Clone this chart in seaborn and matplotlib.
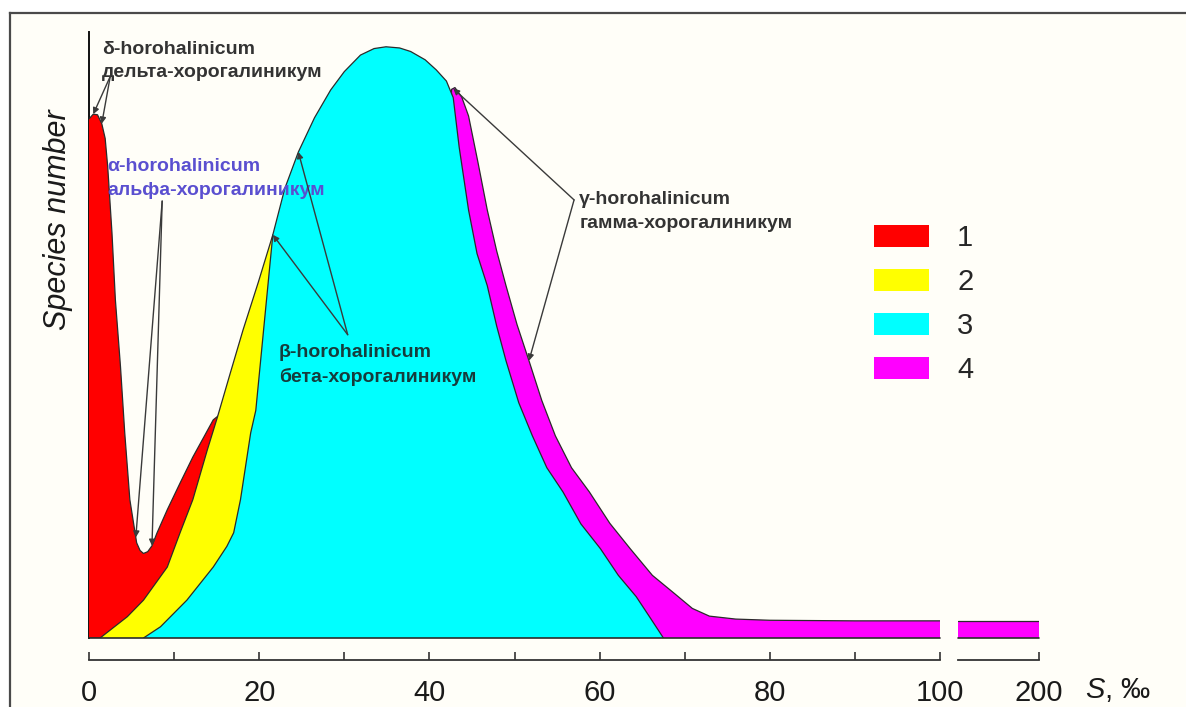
import numpy as np
import pandas as pd
import matplotlib.pyplot as plt
import seaborn as sns
from matplotlib.patches import Patch

# salinity S (per mille) vs species number (relative units)
red_s = [0, 0.5, 1.0, 1.5, 1.9, 2.2, 2.7, 3.1, 3.7, 4.2, 4.8, 5.6, 6.0, 6.4, 6.9, 7.4,
         8.0, 9.2, 10.7, 12.2, 13.5, 14.6, 16.0, 18.0, 19.5]
red_n = [87.8, 88.6, 88.5, 87.0, 84.5, 79.7, 68.5, 57.2, 45.9, 34.7, 23.4, 16.1, 14.8, 14.3,
         14.6, 15.6, 17.8, 21.7, 26.2, 30.6, 34.0, 36.9, 38.5, 30.0, 0]

yel_s = [0, 1.3, 4.5, 6.4, 9.2, 10.7, 12.2, 13.9, 15.1, 16.6, 18.1, 19.9, 21.6, 22.6]
yel_n = [0, 0, 3.6, 6.4, 12.0, 17.8, 23.4, 31.8, 37.4, 44.8, 52.1, 60.2, 68.2, 0]

cyan_s = [6.4, 8.4, 11.5, 14.6, 16.2, 17.0, 17.8, 19.0, 19.6, 21.6, 23.0, 24.6, 26.5, 28.4,
          30.0, 31.9, 33.5, 34.9, 36.5, 37.8, 39.5, 40.8, 42.0, 42.8, 43.5, 44.6, 45.6,
          46.8, 47.9, 49.0, 50.5, 52.1, 53.8, 55.7, 57.8, 60.1, 62.2, 64.3, 66.0, 67.5]
cyan_n = [0, 1.9, 6.4, 12.0, 15.5, 17.8, 23.4, 34.7, 38.5, 68.2, 76.0, 82.2, 88.0, 92.7,
          95.8, 98.6, 99.7, 100.0, 99.8, 99.2, 97.8, 96.1, 94.2, 91.4, 83.0, 72.4, 65.0,
          59.6, 52.8, 46.9, 39.8, 34.2, 28.8, 24.7, 19.3, 15.1, 10.6, 7.0, 3.3, 0]

mag_s = [42.0, 42.6, 43.0, 43.8, 44.6, 45.7, 46.8, 47.9, 49.0, 50.3, 51.7, 53.2, 54.8, 56.7,
         58.8, 61.2, 63.6, 66.2, 68.9, 70.9, 72.9, 76.0, 80.0, 90.0, 100.0]
mag_n = [0, 92.8, 93.1, 91.5, 88.3, 80.5, 72.4, 65.5, 59.6, 53.0, 46.9, 40.2, 34.2, 28.8,
         24.7, 19.4, 15.1, 10.6, 7.4, 5.0, 3.7, 3.2, 3.0, 2.9, 2.9]

tail_s = [100, 200]
tail_n = [2.9, 2.9]

group_labels = ['1', '2', '3', '4']
group_colors = ['#ff0000', '#ffff00', '#00ffff', '#ff00ff']
major_ticks = [0, 20, 40, 60, 80, 100]
minor_ticks = [10, 30, 50, 70, 90]

sns.set_theme(style='white')
plt.rcParams['font.family'] = ['Liberation Sans', 'DejaVu Sans']
plt.rcParams['mathtext.fontset'] = 'custom'
plt.rcParams['mathtext.it'] = 'Liberation Sans:italic'

W, H = 1186, 707
fig = plt.figure(figsize=(W / 100, H / 100), dpi=100)
fig.patch.set_facecolor('white')


def box(x0, y0, x1, y1):
    # pixel box -> figure fraction
    return [x0 / W, 1 - y1 / H, (x1 - x0) / W, (y1 - y0) / H]


bg = fig.add_axes(box(10, 13, W + 5, H + 5))
bg.set_facecolor('#fffef8')
bg.set_xticks([]); bg.set_yticks([])
for side in ['right', 'bottom']:
    bg.spines[side].set_visible(False)
for side in ['top', 'left']:
    bg.spines[side].set_color('#4a4a4a')
    bg.spines[side].set_linewidth(1.6)

ax = fig.add_axes(box(89, 32, 940, 638))
ax2 = fig.add_axes(box(958, 32, 1039, 638))
edge = '#2b2b2b'

df = pd.concat([
    pd.DataFrame({'S': mag_s, 'n': mag_n, 'group': '4'}),
    pd.DataFrame({'S': red_s, 'n': red_n, 'group': '1'}),
    pd.DataFrame({'S': yel_s, 'n': yel_n, 'group': '2'}),
    pd.DataFrame({'S': cyan_s, 'n': cyan_n, 'group': '3'}),
])

for z, g in enumerate(['4', '1', '2', '3']):
    d = df[df['group'] == g]
    ax.fill_between(d['S'], 0, d['n'], facecolor=group_colors[int(g) - 1],
                    edgecolor='none', zorder=2 + 2 * z)
    sns.lineplot(x=d['S'].values, y=d['n'].values, ax=ax, color=edge, linewidth=0.9,
                 estimator=None, sort=False, zorder=2.5 + 2 * z)
ax.axhline(0, color=edge, lw=1.2, zorder=12, clip_on=False)

ax2.fill_between(tail_s, 0, tail_n, facecolor=group_colors[3], edgecolor='none', zorder=2)
sns.lineplot(x=tail_s, y=tail_n, ax=ax2, color=edge, linewidth=0.9, estimator=None, zorder=3)
ax2.axhline(0, color=edge, lw=1.2, zorder=12, clip_on=False)

for a, lims in [(ax, (0, 100)), (ax2, (100, 200))]:
    a.set_facecolor('none')
    a.set_xlim(*lims)
    a.set_ylim(0, 102.5)
    a.set_yticks([])
    a.spines['top'].set_visible(False)
    a.spines['right'].set_visible(False)
    a.spines['bottom'].set_position(('outward', 16))
    a.spines['bottom'].set_color('#333333')
    a.spines['bottom'].set_linewidth(1.3)
    a.tick_params(axis='x', which='both', direction='in', length=6, width=1.2,
                  color='#333333', labelsize=21, pad=13.5, bottom=True, labelcolor='#1a1a1a')

ax.spines['left'].set_color('#111111')
ax.spines['left'].set_linewidth(1.4)
ax2.spines['left'].set_visible(False)
ax.set_xticks(major_ticks)
ax.set_xticks(minor_ticks, minor=True)
ax.set_xticklabels([str(t) for t in major_ticks])
ax2.set_xticks([200])
ax2.set_xticklabels(['200'])
ax.set_xlabel(''); ax.set_ylabel('')
ax2.set_xlabel(''); ax2.set_ylabel('')

fig.text(1085 / W, 1 - 690 / H, r'$\mathit{S}$, ‰', fontsize=21, ha='left', va='center',
         color='#1a1a1a')
fig.text(58 / W, 1 - 220 / H, 'Species number', rotation=90, style='italic', fontsize=22,
         ha='center', va='center', color='#1a1a1a')

handles = [Patch(facecolor=c, edgecolor='none') for c in group_colors]
ax.legend(handles, group_labels, loc='upper left', bbox_to_anchor=(874 / W, 1 - 224 / H),
          bbox_transform=fig.transFigure, frameon=False, fontsize=21, handlelength=1.9,
          handleheight=0.76, handletextpad=0.95, labelspacing=0.55, borderpad=0,
          borderaxespad=0)


def on(s_vals, n_vals, s):
    return float(np.interp(s, s_vals, n_vals))


arrow = dict(arrowstyle='-|>', lw=1.0, color='#3a3a3a', mutation_scale=9,
             shrinkA=0, shrinkB=0)
notes = [
    ('δ-horohalinicum\nдельта-хорогалиникум', (1.5, 97.6), '#333333', (2.5, 95.0),
     [(0.5, on(red_s, red_n, 0.5)), (1.5, on(red_s, red_n, 1.5))]),
    ('α-horohalinicum\nальфа-хорогалиникум', (2.2, 77.7), '#5a4fd0', (8.6, 73.9),
     [(5.5, on(red_s, red_n, 5.5)), (7.4, on(red_s, red_n, 7.4))]),
    ('β-horohalinicum\nбета-хорогалиникум', (22.3, 46.2), '#163c3c', (30.4, 51.3),
     [(21.6, on(cyan_s, cyan_n, 21.6)), (24.6, on(cyan_s, cyan_n, 24.6))]),
    ('γ-horohalinicum\nгамма-хорогалиникум', (57.6, 72.1), '#333333', (57.0, 74.1),
     [(42.8, on(mag_s, mag_n, 42.8)), (51.7, on(mag_s, mag_n, 51.7))]),
]
for text, pos, col, start, targets in notes:
    ax.text(pos[0], pos[1], text, fontsize=14, fontweight='bold', color=col,
            ha='left', va='center', linespacing=1.5, zorder=20)
    for t in targets:
        ax.annotate('', xy=t, xytext=start, arrowprops=arrow, zorder=20)

fig.savefig('out.png', dpi=100, facecolor=fig.get_facecolor())
